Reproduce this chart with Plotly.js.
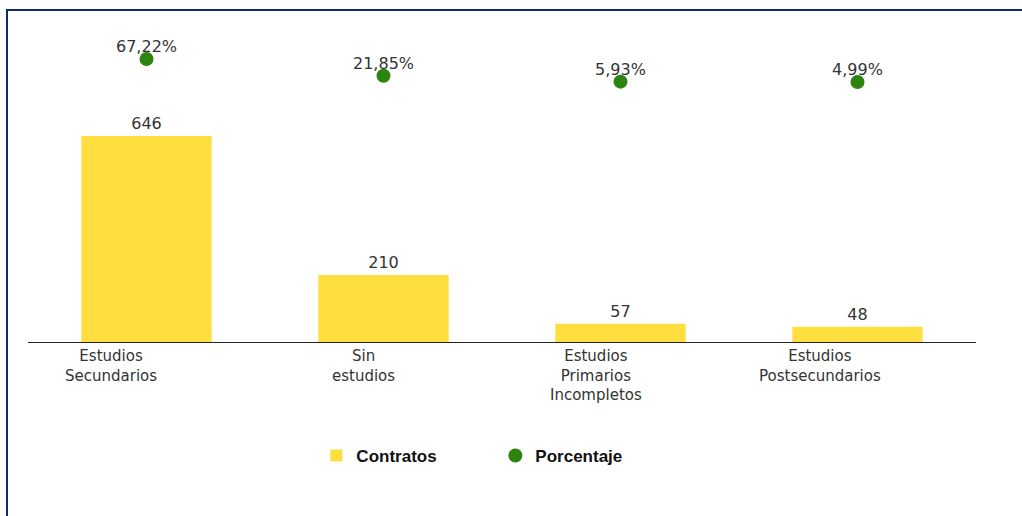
<!DOCTYPE html>
<html>
<head>
<meta charset="utf-8">
<script src="https://cdn.plot.ly/plotly-3.0.1.min.js"></script>
<style>
  html, body { margin: 0; padding: 0; background: #fff; }
  #wrap { position: relative; width: 1022px; height: 516px; overflow: hidden; }
  #chart { position: absolute; left: 0; top: 0; width: 1022px; height: 516px; }
  #frame { position: absolute; left: 6px; top: 9px; width: 1030px; height: 520px;
           border-left: 2px solid #0d2b6e; border-top: 2px solid #0d2b6e; pointer-events: none; }
</style>
</head>
<body>
<div id="wrap">
  <div id="chart"></div>
  <div id="frame"></div>
</div>
<script>
// ---- data ----
const categories = ["Estudios Secundarios", "Sin estudios", "Estudios Primarios Incompletos", "Estudios Postsecundarios"];
const tickLabels = ["Estudios<br>Secundarios", "Sin<br>estudios", "Estudios<br>Primarios<br>Incompletos", "Estudios<br>Postsecundarios"];
const contratos = [646, 210, 57, 48];
const porcentaje = [67.22, 21.85, 5.93, 4.99];

// ---- styling (not data) ----
const labelShift = [-36, -20, -25, -38];
const pctText = porcentaje.map(v => v.toFixed(2).replace('.', ',') + '%');
const valFont = { family: 'DejaVu Sans, Verdana, sans-serif', size: 16, color: '#333' };

const traces = [
  {
    type: 'bar', name: 'Contratos', x: categories, y: contratos,
    marker: { color: '#FFDE40' }, width: 0.55,
    text: contratos.map(String), textposition: 'outside', cliponaxis: false,
    textfont: valFont, hoverinfo: 'x+y'
  },
  {
    type: 'scatter', mode: 'markers', name: 'Porcentaje', x: categories, y: porcentaje,
    yaxis: 'y2', marker: { color: '#2B850F', size: 14 }, cliponaxis: false
  }
];

const annotations = categories.map((c, i) => ({
  x: c, xref: 'x', y: 0, yref: 'paper', yanchor: 'top', xanchor: 'center',
  xshift: labelShift[i], yshift: -3, showarrow: false, align: 'center',
  text: tickLabels[i],
  font: { family: 'DejaVu Sans, Verdana, sans-serif', size: 15, color: '#333' }
})).concat(categories.map((c, i) => ({
  x: c, xref: 'x', y: porcentaje[i], yref: 'y2', yanchor: 'middle', xanchor: 'center',
  yshift: 12, showarrow: false, text: pctText[i], font: valFont
})));

const layout = {
  width: 1022, height: 516,
  margin: { l: 28, r: 46, t: 23, b: 174 },
  paper_bgcolor: 'rgba(0,0,0,0)', plot_bgcolor: 'rgba(0,0,0,0)',
  showlegend: true,
  legend: {
    orientation: 'h', x: 0.493, xanchor: 'center', y: -0.357, yanchor: 'middle',
    font: { family: 'Liberation Sans, Arial, sans-serif', size: 17, color: '#111', weight: 'bold' },
    itemwidth: 30, entrywidth: 134
  },
  xaxis: {
    showticklabels: false, ticks: '', showgrid: false, zeroline: false,
    showline: true, linecolor: '#222', linewidth: 1, fixedrange: true
  },
  yaxis: { range: [0, 1000], visible: false, showgrid: false, zeroline: false },
  yaxis2: { range: [-698.5, 164.6], overlaying: 'y', side: 'right', visible: false, showgrid: false, zeroline: false },
  annotations: annotations,
  bargap: 0.45
};

Plotly.newPlot('chart', traces, layout, { displayModeBar: false, staticPlot: true });
</script>
</body>
</html>
